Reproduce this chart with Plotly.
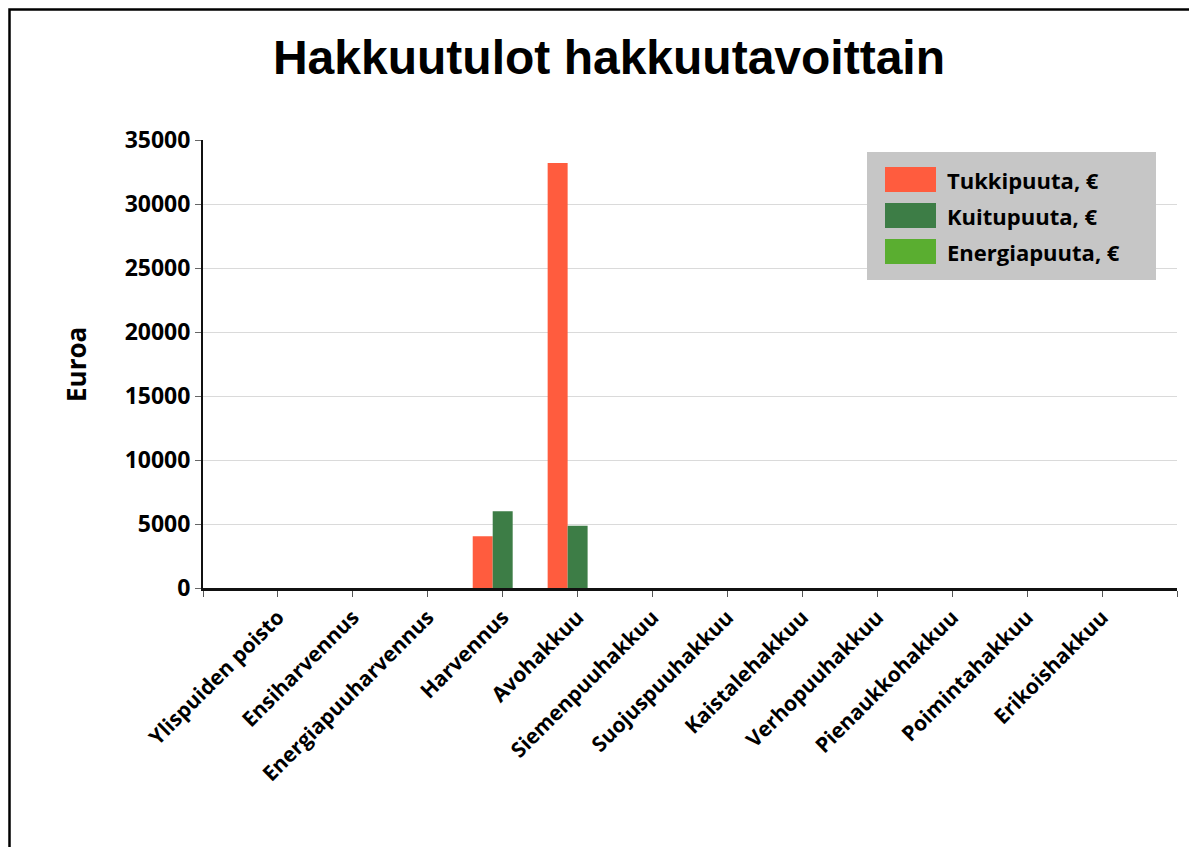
import plotly.graph_objects as go

categories = ["Ylispuiden poisto", "Ensiharvennus", "Energiapuuharvennus", "Harvennus",
              "Avohakkuu", "Siemenpuuhakkuu", "Suojuspuuhakkuu", "Kaistalehakkuu",
              "Verhopuuhakkuu", "Pienaukkohakkuu", "Poimintahakkuu", "Erikoishakkuu"]
series_names = ["Tukkipuuta, €", "Kuitupuuta, €", "Energiapuuta, €"]
tukki = [0, 0, 0, 4050, 33200, 0, 0, 0, 0, 0, 0, 0]
kuitu = [0, 0, 0, 6000, 4870, 0, 0, 0, 0, 0, 0, 0]
energia = [0, 0, 0, 0, 0, 0, 0, 0, 0, 0, 0, 0]
series_values = [tukki, kuitu, energia]
colors = ["#ff5c3e", "#3d7d46", "#5aae30"]
y_ticks = [0, 5000, 10000, 15000, 20000, 25000, 30000, 35000]

W, H = 1197, 847
OFF = 8  # page body margin
L, R, T, B = 203, 1177, 140, 588  # plot area in page pixels

def px(x):
    return (x - L) / (R - L)

def py(y):
    return (B - y) / (B - T)

xpos = list(range(len(categories)))
fig = go.Figure()
for name, vals, col in zip(series_names, series_values, colors):
    fig.add_trace(go.Bar(x=xpos, y=vals, name=name, marker=dict(color=col, line=dict(width=0)),
                         showlegend=False))

font_family = "Open Sans"
fig.update_layout(
    width=W, height=H,
    margin=dict(l=L - OFF, r=W + OFF - R, t=T - OFF, b=H + OFF - B),
    paper_bgcolor="white", plot_bgcolor="white",
    barmode="group", bargap=0.2, bargroupgap=0,
    title=dict(text="Hakkuutulot hakkuutavoittain", x=(609 - OFF) / W, xanchor="center",
               y=1 - (57 - OFF) / H, yanchor="middle", yref="container",
               font=dict(family="Liberation Sans", size=48, color="black", weight="bold")),
    xaxis=dict(range=[-1, len(categories)], tickmode="array",
               tickvals=[-1] + xpos + [len(categories)],
               ticktext=[""] + categories + [""],
               tickangle=-45, showgrid=False, zeroline=False,
               showline=True, linecolor="#111111", linewidth=2.5,
               ticks="outside", ticklen=6, tickcolor="#555555", tickwidth=1,
               tickfont=dict(family=font_family, size=21, color="black", weight="bold")),
    yaxis=dict(range=[0, 35000], tickvals=y_ticks, tickformat="d", showgrid=True,
               gridcolor="#dadada", gridwidth=1,
               zeroline=False, showline=True, linecolor="#111111", linewidth=2,
               ticks="outside", ticklen=6, tickcolor="#666666", tickwidth=1,
               tickfont=dict(family=font_family, size=23, color="black", weight="bold")),
)

shapes = []
annotations = []
# outer frame (top-left corner just inside the drawable page area)
shapes.append(dict(type="rect", xref="paper", yref="paper", x0=px(9.5), x1=px(1215), y0=py(870), y1=py(9.5),
                   line=dict(color="black", width=2.5), fillcolor="rgba(0,0,0,0)", layer="above"))
# legend box
shapes.append(dict(type="rect", xref="paper", yref="paper", x0=px(867), x1=px(1156), y0=py(280), y1=py(152),
                   line=dict(width=0), fillcolor="#c6c6c6", layer="above"))
row_tops = [167, 203, 239]
for name, col, top in zip(series_names, colors, row_tops):
    shapes.append(dict(type="rect", xref="paper", yref="paper", x0=px(885), x1=px(936),
                       y0=py(top + 25), y1=py(top), line=dict(width=0), fillcolor=col, layer="above"))
    annotations.append(dict(xref="paper", yref="paper", x=px(945), y=py(top + 12.5), text=name,
                            showarrow=False, xanchor="left", yanchor="middle",
                            font=dict(family=font_family, size=22, color="black", weight="bold")))
# y-axis title
annotations.append(dict(xref="paper", yref="paper", x=px(76), y=py(365), text="Euroa", textangle=-90,
                        showarrow=False, xanchor="center", yanchor="middle",
                        font=dict(family=font_family, size=26, color="black", weight="bold")))
fig.update_layout(shapes=shapes, annotations=annotations)

fig.write_html("out.html")
